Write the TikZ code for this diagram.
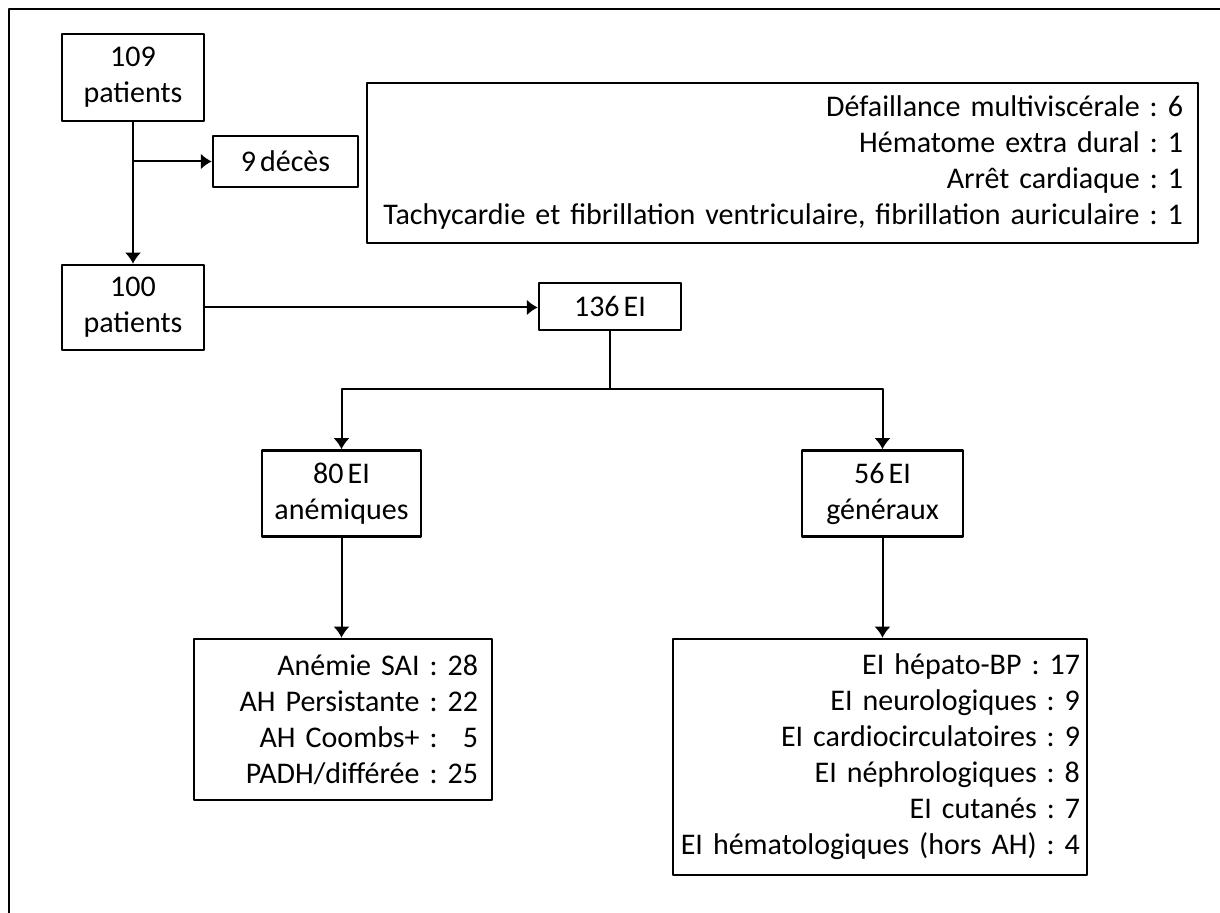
\documentclass[tikz,border=0pt]{standalone}
\usepackage{fontspec}
\setmainfont{Carlito}[WordSpace=0.6]
\usepackage{tikz}
\usetikzlibrary{arrows.meta}
\frenchspacing

\begin{document}
\begin{tikzpicture}[>={Latex[width=16bp,length=11bp]},line join=bevel,
  box/.style={draw,rectangle,line width=2.5bp,inner sep=0pt,align=center,
              font=\fontsize{30bp}{36bp}\selectfont},
  listbox/.style={draw,rectangle,line width=2.5bp,inner xsep=12bp,inner ysep=0pt,
                  align=right,font=\fontsize{30bp}{36bp}\selectfont},
  link/.style={line width=2bp},
  ]
\useasboundingbox (0bp,0bp) rectangle (1220bp,913bp);
%% frame
\draw [line width=2bp] (9bp,0bp) -- (9bp,904bp) -- (1220bp,904bp);
%%
  \node (p109) at (133.0bp,835.5bp) [box,minimum width=142bp,minimum height=87bp] {109\\patients};
  \node (deces) at (285.5bp,751.5bp) [box,minimum width=145bp,minimum height=51bp] {9 décès};
  \node (causes) at (782.5bp,750.0bp) [listbox,inner xsep=15bp,text width=801bp,minimum height=160bp]
    {Défaillance multiviscérale : 6\\Hématome extra dural : 1\\Arrêt cardiaque : 1\\Tachycardie et fibrillation ventriculaire, fibrillation auriculaire : 1};
  \node (p100) at (133.0bp,605.5bp) [box,minimum width=142bp,minimum height=85bp] {100\\patients};
  \node (ei136) at (610.0bp,606.5bp) [box,minimum width=142bp,minimum height=47bp] {136 EI};
  \node (ei80) at (341.5bp,419.5bp) [box,minimum width=159bp,minimum height=86bp] {80 EI\\anémiques};
  \node (ei56) at (882.5bp,419.5bp) [box,minimum width=161bp,minimum height=86bp] {56 EI\\généraux};
  \node (liste80) at (343.0bp,193.5bp) [listbox,inner xsep=14bp,text width=270bp,minimum height=161bp]
    {Anémie SAI : 28\\AH Persistante : 22\\AH Coombs+ : \phantom{2}5\\PADH/différée : 25};
  \node (liste56) at (880.0bp,156.0bp) [listbox,inner xsep=7bp,text width=400bp,minimum height=236bp]
    {EI hépato-BP : 17\\EI neurologiques : 9\\EI cardiocirculatoires : 9\\EI néphrologiques : 8\\EI cutanés : 7\\\mbox{EI hématologiques (hors AH) : 4}};

  \coordinate (split) at (p109.south |- deces.west);
  \coordinate (branch) at (ei136.south |- 0bp,524bp);
  \draw [link,->] (p109) -- (p100);
  \draw [link,->] (split) -- (deces);
  \draw [link,->] (p100.east) -- (p100.east -| ei136.west);
  \draw [link] (ei136) -- (branch);
  \draw [link,->] (branch) -| (ei80);
  \draw [link,->] (branch) -| (ei56);
  \draw [link,->] (ei80) -- (ei80 |- liste80.north);
  \draw [link,->] (ei56) -- (ei56 |- liste56.north);
%
\end{tikzpicture}
\end{document}
